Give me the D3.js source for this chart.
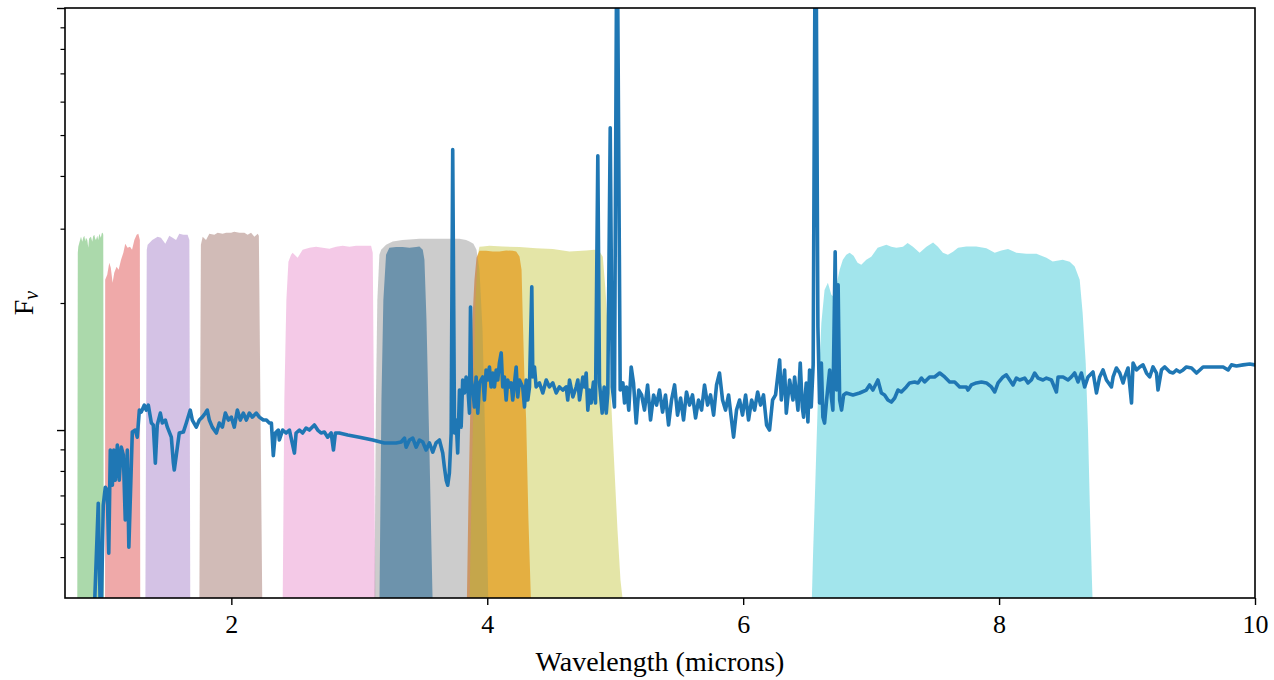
<!DOCTYPE html>
<html>
<head>
<meta charset="utf-8">
<script src="https://d3js.org/d3.v7.min.js"></script>
<style>
  body { margin: 0; background: #fff; }
  svg text { font-family: "Liberation Serif", "DejaVu Serif", serif; fill: #000; }
</style>
</head>
<body>
<script>
// spectrum: [wavelength (micron), F_nu]
const spectrum = [
  [0.898,0.30],[0.921,0.318],[0.960,0.671],[0.980,0.318],[0.999,0.664],[1.015,0.732],[1.030,0.720],[1.042,0.511],
  [1.054,0.897],[1.070,0.740],[1.081,0.897],[1.093,0.761],[1.109,0.921],[1.124,0.761],[1.140,0.911],[1.156,0.873],
  [1.171,0.612],[1.187,0.897],[1.199,0.528],[1.210,0.682],[1.226,0.989],[1.249,1.000],[1.265,0.962],[1.281,1.115],
  [1.296,1.103],[1.320,1.146],[1.335,1.115],[1.351,1.146],[1.375,1.039],[1.390,1.028],[1.406,0.835],[1.421,1.028],
  [1.445,1.097],[1.461,1.039],[1.484,1.056],[1.500,1.016],[1.531,0.962],[1.547,0.835],[1.554,0.804],[1.570,0.873],
  [1.593,0.984],[1.625,0.989],[1.648,1.039],[1.679,1.115],[1.695,1.056],[1.726,1.016],[1.750,1.056],[1.773,1.073],
  [1.797,1.097],[1.812,1.115],[1.828,1.056],[1.851,1.016],[1.883,0.984],[1.906,1.039],[1.930,1.016],[1.953,1.097],
  [1.977,1.056],[2.000,1.073],[2.023,1.016],[2.047,1.115],[2.070,1.056],[2.094,1.097],[2.117,1.056],[2.141,1.097],
  [2.164,1.073],[2.195,1.097],[2.219,1.073],[2.250,1.056],[2.274,1.056],[2.297,1.039],[2.313,1.039],[2.328,0.870],
  [2.344,0.984],[2.367,1.000],[2.375,0.947],[2.401,1.000],[2.428,0.984],[2.454,1.000],[2.493,0.882],[2.506,0.984],
  [2.532,1.000],[2.557,0.984],[2.584,1.011],[2.610,1.000],[2.649,1.028],[2.675,1.000],[2.701,0.984],[2.727,0.989],
  [2.753,0.962],[2.780,0.984],[2.798,0.897],[2.813,0.984],[2.844,0.984],[2.909,0.973],[3.001,0.962],[3.105,0.947],
  [3.196,0.932],[3.288,0.932],[3.327,0.937],[3.353,0.957],[3.366,0.911],[3.392,0.947],[3.418,0.957],[3.444,0.911],
  [3.470,0.947],[3.496,0.937],[3.522,0.897],[3.548,0.932],[3.574,0.887],[3.600,0.932],[3.626,0.947],[3.652,0.882],
  [3.665,0.817],[3.679,0.761],[3.691,0.740],[3.704,0.791],[3.718,0.984],[3.730,4.617],[3.744,0.984],[3.757,1.056],
  [3.769,0.882],[3.783,1.244],[3.796,1.016],[3.808,1.314],[3.822,1.224],[3.835,1.336],[3.848,1.265],[3.861,1.097],
  [3.869,1.957],[3.876,1.314],[3.887,1.244],[3.900,1.134],[3.913,1.336],[3.926,1.097],[3.939,1.293],[3.965,1.336],
  [3.978,1.178],[3.991,1.388],[4.004,1.314],[4.017,1.411],[4.030,1.265],[4.043,1.365],[4.056,1.265],[4.070,1.388],
  [4.082,1.314],[4.095,1.442],[4.109,1.523],[4.121,1.265],[4.134,1.336],[4.148,1.178],[4.160,1.314],[4.174,1.265],
  [4.187,1.293],[4.199,1.178],[4.226,1.411],[4.238,1.198],[4.252,1.314],[4.277,1.265],[4.291,1.134],[4.304,1.314],
  [4.317,1.178],[4.330,1.265],[4.348,2.184],[4.356,1.336],[4.369,1.411],[4.382,1.265],[4.408,1.293],[4.434,1.224],
  [4.461,1.314],[4.486,1.265],[4.512,1.293],[4.539,1.224],[4.564,1.265],[4.590,1.244],[4.617,1.265],[4.629,1.178],
  [4.643,1.314],[4.669,1.198],[4.695,1.265],[4.708,1.314],[4.721,1.178],[4.747,1.336],[4.760,1.265],[4.773,1.365],
  [4.786,1.115],[4.799,1.244],[4.812,1.159],[4.830,1.300],[4.846,1.159],[4.864,4.467],[4.877,1.293],[4.898,1.097],
  [4.914,1.265],[4.930,1.097],[4.942,1.224],[4.961,5.205],[4.977,1.265],[4.994,1.134],[5.014,20.0],[5.039,1.244],
  [5.060,1.293],[5.073,1.159],[5.088,1.265],[5.106,1.115],[5.125,1.411],[5.143,1.293],[5.164,1.039],[5.184,1.244],
  [5.206,1.211],[5.229,1.115],[5.253,1.279],[5.276,1.056],[5.300,1.211],[5.323,1.146],[5.346,1.244],[5.370,1.103],
  [5.393,1.211],[5.417,1.028],[5.440,1.178],[5.464,1.279],[5.487,1.085],[5.511,1.191],[5.534,1.056],[5.557,1.231],
  [5.581,1.146],[5.604,1.211],[5.628,1.068],[5.651,1.178],[5.675,1.115],[5.698,1.279],[5.722,1.146],[5.745,1.211],
  [5.769,1.085],[5.792,1.279],[5.815,1.365],[5.839,1.178],[5.862,1.115],[5.886,1.211],[5.909,1.056],[5.925,0.962],
  [5.948,1.115],[5.972,1.178],[5.995,1.085],[6.019,1.211],[6.042,1.056],[6.066,1.178],[6.089,1.115],[6.113,1.231],
  [6.136,1.146],[6.159,1.211],[6.183,1.028],[6.206,1.000],[6.230,1.178],[6.253,1.211],[6.285,1.466],[6.298,1.178],
  [6.324,1.388],[6.337,1.097],[6.363,1.314],[6.389,1.178],[6.402,1.336],[6.428,1.115],[6.446,1.442],[6.462,1.134],
  [6.472,1.073],[6.493,1.293],[6.506,1.045],[6.519,1.388],[6.532,1.134],[6.547,1.427],[6.566,25.0],[6.584,1.756],
  [6.597,1.159],[6.611,1.442],[6.623,1.073],[6.636,1.039],[6.652,1.178],[6.676,1.388],[6.689,1.198],[6.701,1.115],
  [6.719,2.645],[6.730,1.244],[6.742,2.208],[6.754,1.178],[6.769,1.115],[6.785,1.211],[6.806,1.224],[6.858,1.211],
  [6.910,1.224],[6.962,1.244],[6.988,1.279],[7.014,1.244],[7.053,1.314],[7.080,1.224],[7.105,1.211],[7.131,1.178],
  [7.158,1.165],[7.184,1.191],[7.210,1.244],[7.236,1.231],[7.275,1.265],[7.301,1.293],[7.340,1.300],[7.366,1.293],
  [7.393,1.328],[7.418,1.300],[7.457,1.336],[7.496,1.336],[7.536,1.365],[7.575,1.336],[7.614,1.300],[7.653,1.300],
  [7.692,1.265],[7.744,1.265],[7.757,1.244],[7.783,1.279],[7.822,1.293],[7.862,1.300],[7.901,1.293],[7.940,1.265],
  [7.966,1.231],[7.992,1.293],[8.031,1.336],[8.057,1.351],[8.083,1.314],[8.109,1.279],[8.135,1.328],[8.161,1.314],
  [8.200,1.328],[8.226,1.293],[8.252,1.314],[8.278,1.365],[8.304,1.328],[8.343,1.314],[8.370,1.328],[8.409,1.314],
  [8.448,1.231],[8.461,1.336],[8.500,1.336],[8.539,1.314],[8.565,1.336],[8.591,1.365],[8.617,1.300],[8.643,1.365],
  [8.669,1.265],[8.695,1.336],[8.734,1.373],[8.761,1.224],[8.786,1.336],[8.812,1.388],[8.839,1.314],[8.878,1.265],
  [8.891,1.336],[8.917,1.403],[8.943,1.365],[8.969,1.293],[8.982,1.336],[9.008,1.403],[9.035,1.159],[9.047,1.442],
  [9.074,1.388],[9.099,1.411],[9.125,1.427],[9.152,1.365],[9.177,1.336],[9.203,1.411],[9.230,1.365],[9.242,1.244],
  [9.269,1.388],[9.295,1.411],[9.334,1.373],[9.360,1.365],[9.386,1.388],[9.412,1.373],[9.438,1.388],[9.464,1.411],
  [9.504,1.403],[9.543,1.365],[9.569,1.388],[9.594,1.411],[9.647,1.411],[9.699,1.411],[9.751,1.411],[9.790,1.388],
  [9.816,1.427],[9.855,1.419],[9.907,1.427],[9.959,1.434],[9.998,1.427],[10.05,1.43]
];

// filter curves: [wavelength (micron), scaled throughput]
const f335m = [[3.157,0.38],[3.173,1.178],[3.188,2.034],[3.209,2.601],[3.235,2.703],[3.288,2.714],[3.339,2.714],
  [3.392,2.703],[3.444,2.714],[3.470,2.722],[3.496,2.674],[3.509,2.533],[3.525,1.824],[3.548,0.897],[3.574,0.38]];
const f410m = [[3.840,0.38],[3.853,0.682],[3.869,1.178],[3.884,1.824],[3.900,2.269],[3.916,2.559],[3.939,2.659],
  [3.991,2.659],[4.043,2.649],[4.095,2.649],[4.148,2.664],[4.199,2.659],[4.226,2.649],[4.252,2.577],[4.268,2.397],
  [4.278,1.824],[4.291,1.314],[4.304,1.056],[4.322,0.612],[4.343,0.38]];
const f090w = [[0.796,0.38],[0.800,2.630],[0.804,2.718],[0.815,2.80],[0.825,2.870],[0.835,2.793],[0.843,2.86],
  [0.851,2.886],[0.858,2.80],[0.864,2.854],[0.874,2.822],[0.882,2.703],[0.888,2.84],[0.894,2.854],[0.903,2.870],
  [0.913,2.793],[0.920,2.88],[0.929,2.901],[0.936,2.84],[0.942,2.822],[0.952,2.886],[0.960,2.82],[0.968,2.917],
  [0.980,2.854],[0.988,2.93],[0.994,2.934],[0.999,2.901],[1.003,0.38]];
const f115w = [[1.013,0.38],[1.014,2.269],[1.030,2.332],[1.046,2.490],[1.058,2.423],[1.072,2.233],[1.085,2.358],
  [1.103,2.436],[1.119,2.397],[1.138,2.533],[1.156,2.630],[1.171,2.763],[1.189,2.703],[1.208,2.718],[1.224,2.674],
  [1.242,2.822],[1.260,2.901],[1.273,2.917],[1.285,2.822],[1.288,0.38]];
const f150w = [[1.328,0.38],[1.339,2.674],[1.346,2.747],[1.382,2.822],[1.424,2.870],[1.450,2.854],[1.484,2.763],
  [1.515,2.886],[1.541,2.854],[1.568,2.822],[1.593,2.917],[1.625,2.901],[1.658,2.901],[1.672,2.822],[1.679,0.38]];
const f200w = [[1.750,0.38],[1.762,2.747],[1.776,2.870],[1.802,2.822],[1.828,2.917],[1.867,2.901],[1.893,2.934],
  [1.932,2.917],[1.959,2.934],[1.998,2.934],[2.023,2.950],[2.063,2.934],[2.102,2.934],[2.127,2.901],[2.154,2.934],
  [2.180,2.870],[2.206,2.917],[2.215,2.886],[2.227,1.178],[2.242,0.38]];
const f277w = [[2.401,0.38],[2.414,1.178],[2.430,2.034],[2.446,2.504],[2.467,2.601],[2.479,2.630],[2.518,2.559],
  [2.557,2.674],[2.610,2.703],[2.662,2.718],[2.714,2.703],[2.766,2.688],[2.818,2.718],[2.870,2.733],[2.923,2.718],
  [2.975,2.733],[3.027,2.733],[3.092,2.733],[3.105,2.630],[3.114,1.178],[3.126,0.38]];
const f356w = [[3.118,0.38],[3.130,1.178],[3.141,2.034],[3.157,2.601],[3.171,2.674],[3.209,2.747],[3.261,2.797],
  [3.337,2.822],[3.470,2.839],[3.626,2.839],[3.783,2.839],[3.835,2.822],[3.861,2.797],[3.892,2.763],[3.916,2.674],
  [3.939,2.397],[3.963,1.727],[3.986,0.897],[4.009,0.38]];
const f444w = [[3.861,0.38],[3.876,0.682],[3.892,1.178],[3.908,2.034],[3.926,2.601],[3.939,2.718],[3.965,2.722],
  [4.017,2.733],[4.121,2.722],[4.252,2.714],[4.382,2.698],[4.512,2.684],[4.643,2.649],[4.773,2.664],[4.838,2.674],
  [4.877,2.649],[4.903,2.573],[4.924,2.148],[4.942,1.727],[4.979,1.000],[5.018,0.579],[5.041,0.441],[5.065,0.38]];
const f770w = [[6.535,0.38],[6.547,0.519],[6.558,0.657],[6.582,1.134],[6.611,1.794],[6.636,2.148],[6.662,2.233],
  [6.689,2.091],[6.707,2.068],[6.730,2.208],[6.754,2.397],[6.779,2.533],[6.806,2.601],[6.832,2.630],[6.863,2.587],
  [6.894,2.490],[6.923,2.463],[6.962,2.533],[7.001,2.573],[7.051,2.703],[7.119,2.747],[7.158,2.718],[7.197,2.703],
  [7.249,2.718],[7.285,2.773],[7.327,2.718],[7.379,2.630],[7.432,2.718],[7.484,2.782],[7.522,2.718],[7.561,2.630],
  [7.600,2.601],[7.640,2.645],[7.679,2.703],[7.744,2.722],[7.822,2.722],[7.901,2.698],[7.966,2.630],[8.018,2.664],
  [8.070,2.684],[8.135,2.630],[8.213,2.616],[8.292,2.616],[8.370,2.559],[8.419,2.508],[8.497,2.533],[8.552,2.504],
  [8.591,2.440],[8.630,2.269],[8.653,1.895],[8.677,1.442],[8.695,1.000],[8.712,0.612],[8.732,0.38]];

// draw order: medium bands first, then wide bands on top
const filters = [
  { data: f335m, color: '#1f77b4', alpha: 0.7 },
  { data: f410m, color: '#ff7f0e', alpha: 0.7 },
  { data: f090w, color: '#2ca02c', alpha: 0.4 },
  { data: f115w, color: '#d62728', alpha: 0.4 },
  { data: f150w, color: '#9467bd', alpha: 0.4 },
  { data: f200w, color: '#8c564b', alpha: 0.4 },
  { data: f277w, color: '#e377c2', alpha: 0.4 },
  { data: f356w, color: '#7f7f7f', alpha: 0.4 },
  { data: f444w, color: '#bcbd22', alpha: 0.4 },
  { data: f770w, color: '#17becf', alpha: 0.4 }
];

const xTicks = [2, 4, 6, 8, 10];
const yMajor = [1, 10];
const yMinor = [0.5, 0.6, 0.7, 0.8, 0.9, 2, 3, 4, 5, 6, 7, 8, 9];

const W = 1274, H = 680;
const plotL = 65, plotR = 1255, plotT = 8, plotB = 598;

const svg = d3.select('body').append('svg')
  .attr('width', W).attr('height', H);

const x = d3.scaleLinear().domain([0.7, 10]).range([plotL, plotR]);
const y = d3.scaleLog().domain([0.4, 10]).range([plotB, plotT]);

svg.append('clipPath').attr('id', 'plot')
  .append('rect')
  .attr('x', plotL).attr('y', plotT)
  .attr('width', plotR - plotL).attr('height', plotB - plotT);

const g = svg.append('g').attr('clip-path', 'url(#plot)');

const area = d3.area()
  .x(d => x(d[0]))
  .y0(y(0.3))
  .y1(d => y(d[1]));

g.selectAll('path.band')
  .data(filters)
  .join('path')
  .attr('class', 'band')
  .attr('d', d => area(d.data))
  .attr('fill', d => d.color)
  .attr('fill-opacity', d => d.alpha)
  .attr('stroke', 'none');

const line = d3.line()
  .x(d => x(d[0]))
  .y(d => y(d[1]));

g.append('path')
  .datum(spectrum)
  .attr('d', line)
  .attr('fill', 'none')
  .attr('stroke', '#1f77b4')
  .attr('stroke-width', 3.6)
  .attr('stroke-linejoin', 'round')
  .attr('stroke-linecap', 'round');

// axes
const xAxis = svg.append('g')
  .attr('transform', `translate(0,${plotB})`)
  .call(d3.axisBottom(x).tickValues(xTicks).tickSize(7).tickPadding(10).tickFormat(d3.format('d')));
xAxis.select('.domain').remove();
xAxis.selectAll('line').attr('stroke', '#000').attr('stroke-width', 1.4);
xAxis.selectAll('text').attr('font-size', 26).attr('dy', '0.71em');

const yAxisMajor = svg.append('g')
  .attr('transform', `translate(${plotL},0)`)
  .call(d3.axisLeft(y).tickValues(yMajor).tickSize(8).tickFormat(''));
yAxisMajor.select('.domain').remove();
yAxisMajor.selectAll('line').attr('stroke', '#000').attr('stroke-width', 1.4);

const yAxisMinor = svg.append('g')
  .attr('transform', `translate(${plotL},0)`)
  .call(d3.axisLeft(y).tickValues(yMinor).tickSize(4.5).tickFormat(''));
yAxisMinor.select('.domain').remove();
yAxisMinor.selectAll('line').attr('stroke', '#000').attr('stroke-width', 1.2);

svg.append('rect')
  .attr('x', plotL).attr('y', plotT)
  .attr('width', plotR - plotL).attr('height', plotB - plotT)
  .attr('fill', 'none')
  .attr('stroke', '#000')
  .attr('stroke-width', 1.6);

svg.append('text')
  .attr('x', (plotL + plotR) / 2)
  .attr('y', 671)
  .attr('text-anchor', 'middle')
  .attr('font-size', 28)
  .text('Wavelength (microns)');

const yl = svg.append('text')
  .attr('transform', `translate(33,${(plotT + plotB) / 2}) rotate(-90)`)
  .attr('text-anchor', 'middle')
  .attr('font-size', 28);
yl.append('tspan').text('F');
yl.append('tspan')
  .attr('font-size', 20)
  .attr('font-style', 'italic')
  .attr('dy', 5)
  .text('ν');
</script>
</body>
</html>
